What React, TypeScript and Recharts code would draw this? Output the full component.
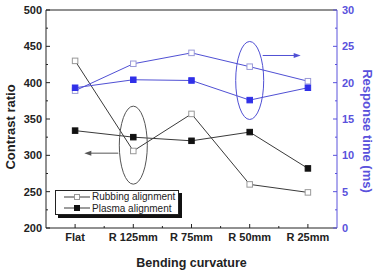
import {
  Legend,
  Line,
  LineChart,
  ReferenceDot,
  ReferenceLine,
  XAxis,
  YAxis,
} from "recharts";

const categories = ["Flat", "R 125mm", "R 75mm", "R 50mm", "R 25mm"];

// contrast ratio (left axis)
const rubbingContrast = [430, 306, 357, 260, 249];
const plasmaContrast = [334, 325, 320, 332, 282];

// response time in ms (right axis)
const rubbingResponse = [18.9, 22.6, 24.1, 22.2, 20.2];
const plasmaResponse = [19.3, 20.4, 20.3, 17.6, 19.3];

const contrastTicks = [200, 225, 250, 275, 300, 325, 350, 375, 400, 425, 450, 475, 500];
const responseTicks = [0, 2.5, 5, 7.5, 10, 12.5, 15, 17.5, 20, 22.5, 25, 27.5, 30];

const legendItems = [
  { name: "Rubbing alignment", filled: false },
  { name: "Plasma alignment", filled: true },
];

const data = categories.map((name, i) => ({
  name,
  rubbingContrast: rubbingContrast[i],
  plasmaContrast: plasmaContrast[i],
  rubbingResponse: rubbingResponse[i],
  plasmaResponse: plasmaResponse[i],
}));

const FONT = "'Liberation Sans', Arial, sans-serif";
const INK = "#222";
const BLUE = "#5a52dc";
const BLUE_MARK = "#3030e8";
const LINE_GREY = "#3a3a3a";
const BLUE_LINE = "#5050d4";

function squareDot(fill: string, stroke: string, size = 5.5) {
  return (props: any) => {
    const { cx, cy, index } = props;
    if (cx == null || cy == null) return <g key={index} />;
    return (
      <rect
        key={index}
        x={cx - size / 2}
        y={cy - size / 2}
        width={size}
        height={size}
        fill={fill}
        stroke={stroke}
        strokeWidth={1}
      />
    );
  };
}

function LeftTick(props: any) {
  const { x, y, payload } = props;
  const axisX = x + 4;
  const major = payload.value % 50 === 0;
  return (
    <g>
      <line x1={axisX} x2={axisX + (major ? 4 : 2)} y1={y} y2={y} stroke={INK} />
      {major ? (
        <text
          x={x}
          y={y}
          dy={4}
          textAnchor="end"
          fontSize={11}
          fontWeight="bold"
          fontFamily={FONT}
          fill={INK}
        >
          {payload.value}
        </text>
      ) : null}
    </g>
  );
}

function RightTick(props: any) {
  const { x, y, payload } = props;
  const axisX = x - 5;
  const major = payload.value % 5 === 0;
  return (
    <g>
      <line x1={axisX} x2={axisX - (major ? 4 : 2)} y1={y} y2={y} stroke={BLUE} />
      {major ? (
        <text
          x={x}
          y={y}
          dy={4}
          textAnchor="start"
          fontSize={11}
          fontWeight="bold"
          fontFamily={FONT}
          fill={BLUE}
        >
          {payload.value}
        </text>
      ) : null}
    </g>
  );
}

function BottomTick(props: any) {
  const { x, y, payload, index, width } = props;
  const axisY = y - 4;
  const band = width / categories.length;
  return (
    <g>
      <line x1={x} x2={x} y1={axisY} y2={axisY - 4} stroke={INK} />
      {index < categories.length - 1 ? (
        <line
          x1={x + band / 2}
          x2={x + band / 2}
          y1={axisY}
          y2={axisY - 2}
          stroke={INK}
        />
      ) : null}
      <text
        x={x}
        y={y}
        dy={9}
        textAnchor="middle"
        fontSize={11}
        fontWeight="bold"
        fontFamily={FONT}
        fill={INK}
      >
        {payload.value}
      </text>
    </g>
  );
}

function EllipseNote({
  color,
  arrowY,
  arrowFrom,
  arrowTo,
}: {
  color: string;
  arrowY: number;
  arrowFrom: number;
  arrowTo: number;
}) {
  return (props: any) => {
    const { cx, cy } = props;
    const y = cy + arrowY;
    const x2 = cx + arrowTo;
    const dir = arrowTo > arrowFrom ? 1 : -1;
    return (
      <g>
        <ellipse cx={cx} cy={cy} rx={14} ry={39} fill="none" stroke={color} strokeWidth={1} />
        <line x1={cx + arrowFrom} x2={x2 - dir * 5} y1={y} y2={y} stroke={color} />
        <path
          d={`M${x2},${y} L${x2 - dir * 7},${y - 2.5} L${x2 - dir * 7},${y + 2.5} Z`}
          fill={color}
        />
      </g>
    );
  };
}

function LegendBox() {
  return (
    <div
      style={{
        boxSizing: "border-box",
        width: 124,
        border: "1px solid #222",
        background: "#fff",
        boxShadow: "3px 3px 0 #111",
        padding: "0 0 0 8px",
        fontFamily: FONT,
        fontSize: 10,
        color: INK,
        lineHeight: "11.5px",
        whiteSpace: "nowrap",
      }}
    >
      {legendItems.map((item) => (
        <div key={item.name} style={{ display: "flex", alignItems: "center" }}>
          <svg width={26} height={10} style={{ marginRight: 2 }}>
            <line x1={0} x2={26} y1={5} y2={5} stroke={LINE_GREY} />
            <rect
              x={10.5}
              y={2.5}
              width={5}
              height={5}
              fill={item.filled ? "#111" : "#fff"}
              stroke={item.filled ? "#111" : "#999"}
            />
          </svg>
          <span>{item.name}</span>
        </div>
      ))}
    </div>
  );
}

export default function App() {
  return (
    <div style={{ width: 374, height: 270, background: "#fff" }}>
      <style>{"body{margin:0}"}</style>
      <LineChart
        width={374}
        height={270}
        data={data}
        margin={{ top: 10, right: 0, bottom: 0, left: 0 }}
      >
        <XAxis
          dataKey="name"
          scale="band"
          height={42}
          stroke={INK}
          tickLine={false}
          tickSize={0}
          tickMargin={4}
          interval={0}
          tick={<BottomTick />}
          label={{
            content: (p: any) => (
              <text
                x={p.viewBox.x + p.viewBox.width / 2}
                y={p.viewBox.y + 39}
                textAnchor="middle"
                fontSize={12.5}
                fontWeight="bold"
                fontFamily={FONT}
                fill={INK}
              >
                Bending curvature
              </text>
            ),
          }}
        />
        <YAxis
          yAxisId="left"
          width={46}
          domain={[200, 500]}
          ticks={contrastTicks}
          interval={0}
          stroke={INK}
          tickLine={false}
          tickSize={0}
          tickMargin={4}
          tick={<LeftTick />}
          label={{
            content: (p: any) => {
              const x = p.viewBox.x + 15;
              const y = p.viewBox.y + p.viewBox.height / 2 + 8;
              return (
                <text
                  x={x}
                  y={y}
                  transform={`rotate(-90 ${x} ${y})`}
                  textAnchor="middle"
                  fontSize={13}
                  fontWeight="bold"
                  fontFamily={FONT}
                  fill={INK}
                >
                  Contrast ratio
                </text>
              );
            },
          }}
        />
        <YAxis
          yAxisId="right"
          orientation="right"
          width={37}
          domain={[0, 30]}
          ticks={responseTicks}
          interval={0}
          stroke={BLUE}
          tickLine={false}
          tickSize={0}
          tickMargin={5}
          tick={<RightTick />}
          label={{
            content: (p: any) => {
              const x = p.viewBox.x + 26;
              const y = p.viewBox.y + p.viewBox.height / 2 + 12;
              return (
                <text
                  x={x}
                  y={y}
                  transform={`rotate(90 ${x} ${y})`}
                  textAnchor="middle"
                  fontSize={13}
                  fontWeight="bold"
                  fontFamily={FONT}
                  fill={BLUE}
                >
                  Response time (ms)
                </text>
              );
            },
          }}
        />
        <ReferenceLine yAxisId="left" y={500} stroke={INK} />

        <Line
          yAxisId="left"
          dataKey="rubbingContrast"
          stroke={LINE_GREY}
          strokeWidth={1}
          dot={squareDot("#fff", "#999")}
          isAnimationActive={false}
        />
        <Line
          yAxisId="left"
          dataKey="plasmaContrast"
          stroke={LINE_GREY}
          strokeWidth={1}
          dot={squareDot("#111", "#111")}
          isAnimationActive={false}
        />
        <Line
          yAxisId="right"
          dataKey="rubbingResponse"
          stroke={BLUE_LINE}
          strokeWidth={1}
          dot={squareDot("#fff", "#9a9ad8")}
          isAnimationActive={false}
        />
        <Line
          yAxisId="right"
          dataKey="plasmaResponse"
          stroke={BLUE_LINE}
          strokeWidth={1}
          dot={squareDot(BLUE_MARK, BLUE_MARK)}
          isAnimationActive={false}
        />

        <ReferenceDot
          yAxisId="left"
          x="R 125mm"
          y={314}
          shape={EllipseNote({ color: "#555", arrowY: 8, arrowFrom: -15, arrowTo: -49 })}
        />
        <ReferenceDot
          yAxisId="right"
          x="R 50mm"
          y={20.3}
          shape={EllipseNote({ color: BLUE_LINE, arrowY: -25, arrowFrom: 13, arrowTo: 51 })}
        />

        <Legend
          layout="vertical"
          align="center"
          verticalAlign="middle"
          wrapperStyle={{ left: 55, top: 190, width: 124 }}
          content={() => <LegendBox />}
        />
      </LineChart>
    </div>
  );
}
